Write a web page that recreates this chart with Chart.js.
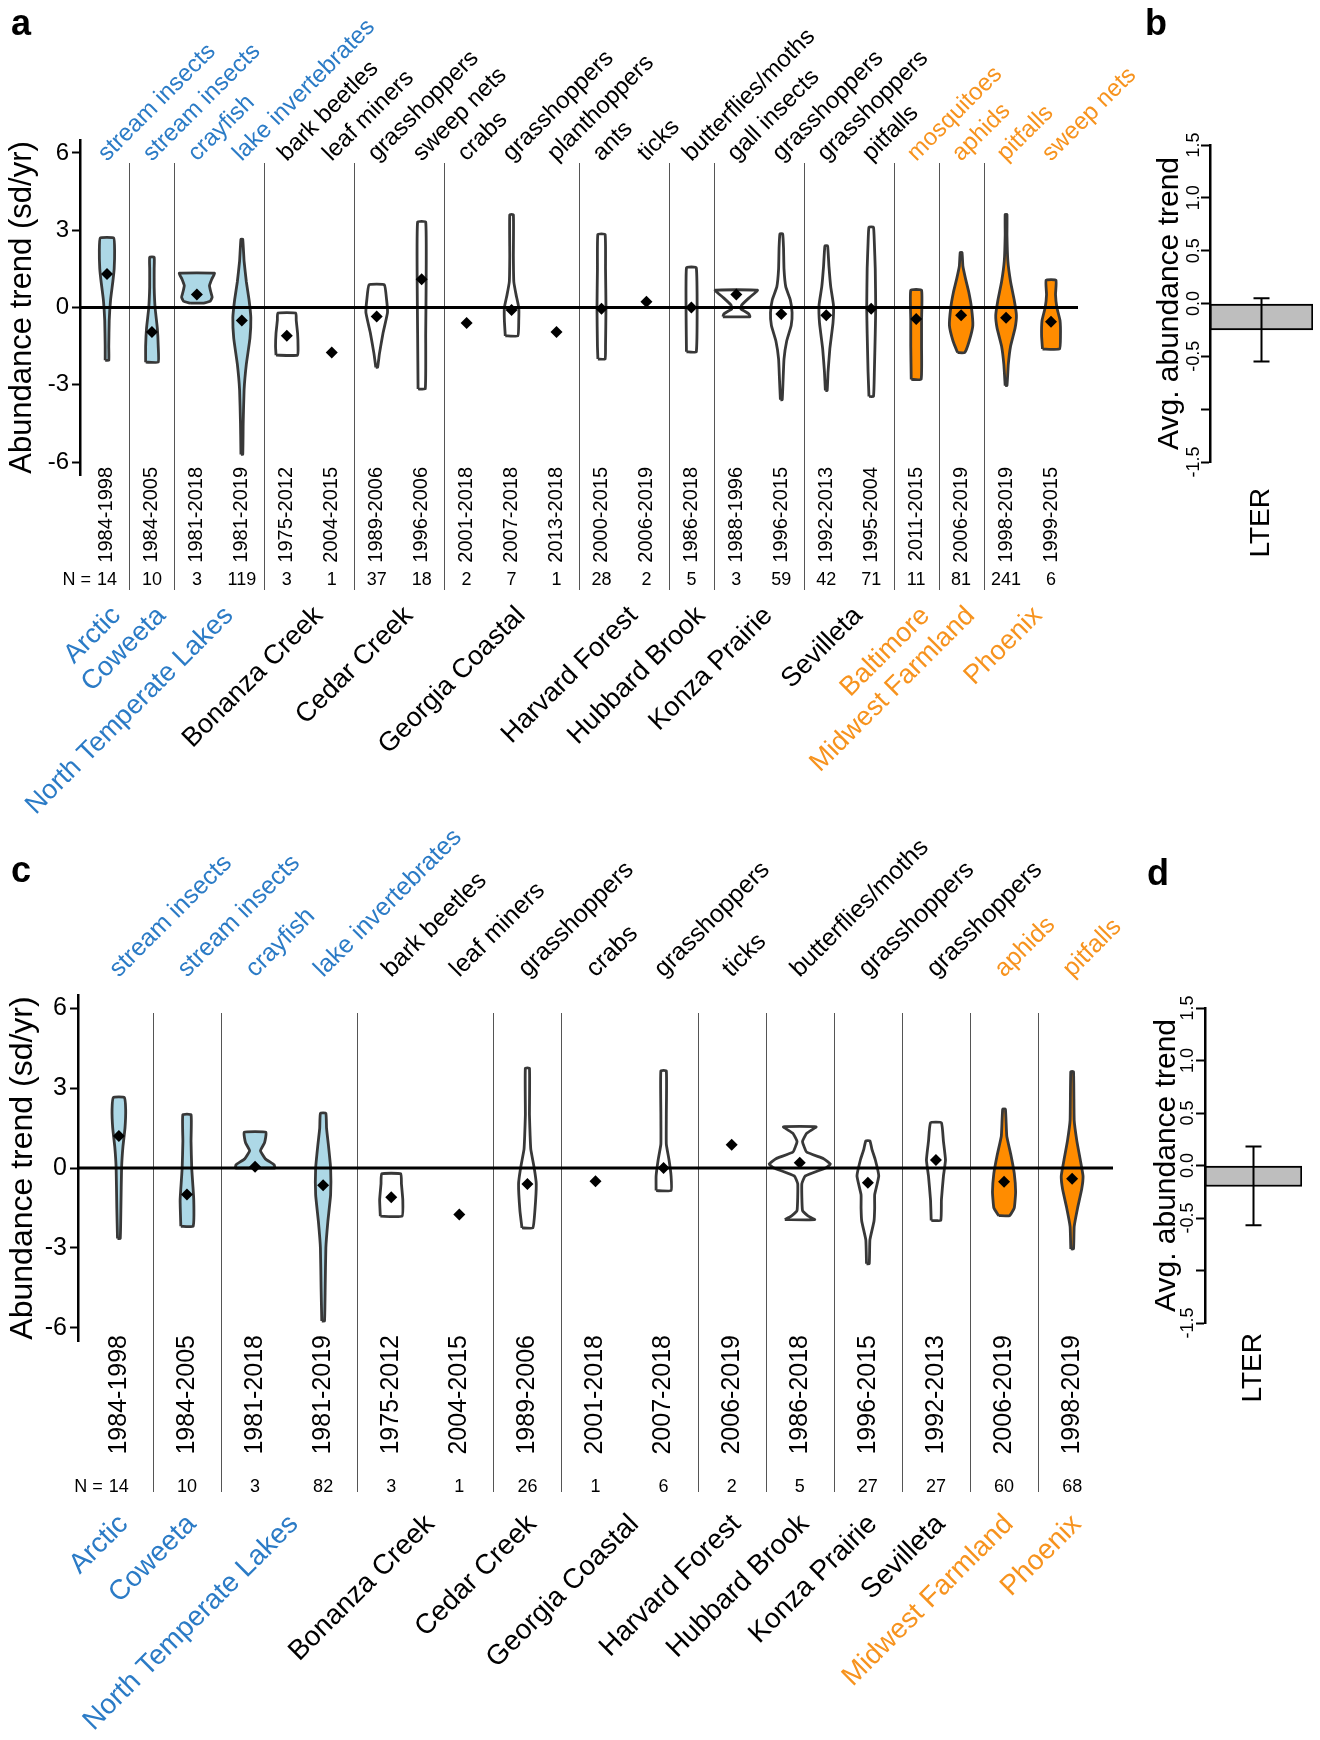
<!DOCTYPE html>
<html>
<head>
<meta charset="utf-8">
<script src="https://cdn.jsdelivr.net/npm/chart.js@4.4.1/dist/chart.umd.min.js"></script>
<style>
  body { margin: 0; background: #fff; width: 1320px; height: 1740px; position: relative; overflow: hidden; }
  canvas { position: absolute; }
</style>
</head>
<body>
<canvas id="chartA" width="1150" height="860" style="left:0;top:0"></canvas>
<canvas id="chartB" width="190" height="600" style="left:1130px;top:0"></canvas>
<canvas id="chartC" width="1150" height="920" style="left:0;top:820px"></canvas>
<canvas id="chartD" width="190" height="600" style="left:1130px;top:850px"></canvas>
<script>
// ---- panel a : all series ----
const taxaA = ['stream insects', 'stream insects', 'crayfish', 'lake invertebrates', 'bark beetles', 'leaf miners',
  'grasshoppers', 'sweep nets', 'crabs', 'grasshoppers', 'planthoppers', 'ants', 'ticks', 'butterflies/moths',
  'gall insects', 'grasshoppers', 'grasshoppers', 'pitfalls', 'mosquitoes', 'aphids', 'pitfalls', 'sweep nets'];
const periodsA = ['1984-1998', '1984-2005', '1981-2018', '1981-2019', '1975-2012', '2004-2015', '1989-2006', '1996-2006',
  '2001-2018', '2007-2018', '2013-2018', '2000-2015', '2006-2019', '1986-2018', '1988-1996', '1996-2015',
  '1992-2013', '1995-2004', '2011-2015', '2006-2019', '1998-2019', '1999-2015'];
const countsA = [14, 10, 3, 119, 3, 1, 37, 18, 2, 7, 1, 28, 2, 5, 3, 59, 42, 71, 11, 81, 241, 6];
const meansA = [1.3, -0.95, 0.5, -0.5, -1.1, -1.75, -0.35, 1.1, -0.6, -0.1, -0.95, -0.05, 0.22, 0.0, 0.5,
  -0.25, -0.3, -0.05, -0.45, -0.3, -0.4, -0.55];
const sitesA = ['Arctic', 'Coweeta', 'North Temperate Lakes', 'Bonanza Creek', 'Cedar Creek', 'Georgia Coastal',
  'Harvard Forest', 'Hubbard Brook', 'Konza Prairie', 'Sevilleta', 'Baltimore', 'Midwest Farmland', 'Phoenix'];
const siteSpansA = [[1, 1], [2, 2], [3, 4], [5, 6], [7, 8], [9, 11], [12, 13], [14, 14], [15, 16], [17, 18], [19, 19], [20, 20], [21, 22]];
const siteKindsA = ['aquatic', 'aquatic', 'aquatic', 'land', 'land', 'land', 'land', 'land', 'land', 'land', 'urban', 'urban', 'urban'];
// violin outline: trend levels and density half-widths (in column units)
const violinLevelsA = [
  [-2.05, -1.5, -0.5, 0.3, 1.0, 1.5, 2.2, 2.7],
  [-2.12, -1.5, -0.8, 0, 0.8, 1.5, 1.95],
  [0.17, 0.25, 0.4, 0.6, 0.85, 1.1, 1.33],
  [-5.7, -4.5, -3.2, -2.2, -1.2, -0.4, 0.3, 1.0, 1.8, 2.65],
  [-1.85, -1.5, -1.0, -0.5, -0.22],
  [],
  [-2.32, -1.8, -1.0, -0.2, 0.3, 0.88],
  [-3.16, -1, 1, 3.32],
  [],
  [-1.1, -0.5, 0, 0.5, 1.0, 2.0, 3.6],
  [],
  [-2.0, -1.5, 0, 1.5, 2.84],
  [],
  [-1.72, 1.54],
  [-0.36, -0.25, -0.05, 0.1, 0.4, 0.67],
  [-3.58, -2.8, -2.0, -1.3, -0.7, -0.2, 0.3, 0.8, 1.5, 2.3, 2.86],
  [-3.22, -2.5, -1.6, -0.6, 0.1, 0.8, 1.6, 2.39],
  [-3.45, -2.5, -1, 0, 1.5, 2.5, 3.12],
  [-2.79, -1.5, -0.5, 0.67],
  [-1.75, -1.3, -0.7, 0, 0.6, 1.1, 1.6, 2.13],
  [-3.03, -2.2, -1.5, -0.8, -0.3, 0.3, 1.0, 1.8, 2.8, 3.61],
  [-1.61, -1.1, -0.5, 0, 0.5, 1.06]
];
const violinWidthsA = [
  [0.04, 0.04, 0.05, 0.08, 0.13, 0.16, 0.17, 0.15],
  [0.14, 0.14, 0.12, 0.07, 0.05, 0.05, 0.05],
  [0.15, 0.3, 0.34, 0.31, 0.28, 0.33, 0.39],
  [0.02, 0.03, 0.05, 0.1, 0.18, 0.2, 0.16, 0.1, 0.05, 0.02],
  [0.24, 0.25, 0.24, 0.21, 0.2],
  [],
  [0.02, 0.06, 0.14, 0.24, 0.22, 0.17],
  [0.08, 0.09, 0.1, 0.09],
  [],
  [0.14, 0.16, 0.16, 0.1, 0.05, 0.04, 0.04],
  [],
  [0.08, 0.09, 0.1, 0.09, 0.08],
  [],
  [0.11, 0.11],
  [0.3, 0.28, 0.1, 0.12, 0.3, 0.47],
  [0.02, 0.04, 0.06, 0.12, 0.22, 0.24, 0.2, 0.1, 0.06, 0.05, 0.03],
  [0.02, 0.04, 0.08, 0.15, 0.16, 0.1, 0.06, 0.03],
  [0.05, 0.07, 0.09, 0.1, 0.09, 0.07, 0.05],
  [0.11, 0.12, 0.12, 0.12],
  [0.08, 0.18, 0.26, 0.23, 0.17, 0.1, 0.04, 0.02],
  [0.02, 0.05, 0.1, 0.2, 0.23, 0.18, 0.1, 0.04, 0.02, 0.02],
  [0.19, 0.21, 0.2, 0.13, 0.1, 0.11]
];

// ---- panel c : long series only ----
const taxaC = ['stream insects', 'stream insects', 'crayfish', 'lake invertebrates', 'bark beetles', 'leaf miners',
  'grasshoppers', 'crabs', 'grasshoppers', 'ticks', 'butterflies/moths', 'grasshoppers', 'grasshoppers', 'aphids', 'pitfalls'];
const periodsC = ['1984-1998', '1984-2005', '1981-2018', '1981-2019', '1975-2012', '2004-2015', '1989-2006', '2001-2018',
  '2007-2018', '2006-2019', '1986-2018', '1996-2015', '1992-2013', '2006-2019', '1998-2019'];
const countsC = [14, 10, 3, 82, 3, 1, 26, 1, 6, 2, 5, 27, 27, 60, 68];
const meansC = [1.2, -1.0, 0.05, -0.65, -1.1, -1.75, -0.6, -0.5, 0.0, 0.87, 0.2, -0.55, 0.3, -0.52, -0.4];
const sitesC = ['Arctic', 'Coweeta', 'North Temperate Lakes', 'Bonanza Creek', 'Cedar Creek', 'Georgia Coastal',
  'Harvard Forest', 'Hubbard Brook', 'Konza Prairie', 'Sevilleta', 'Midwest Farmland', 'Phoenix'];
const siteSpansC = [[1, 1], [2, 2], [3, 4], [5, 6], [7, 7], [8, 9], [10, 10], [11, 11], [12, 12], [13, 13], [14, 14], [15, 15]];
const siteKindsC = ['aquatic', 'aquatic', 'aquatic', 'land', 'land', 'land', 'land', 'land', 'land', 'land', 'urban', 'urban'];
const violinLevelsC = [
  [-2.65, -1.5, 0, 0.8, 1.5, 2.2, 2.65],
  [-2.19, -1.2, 0, 1, 2.0],
  [0, 0.12, 0.35, 0.65, 0.95, 1.34],
  [-5.75, -4.5, -3.0, -2.0, -1.0, 0, 0.8, 1.5, 2.06],
  [-1.81, -1.2, -0.6, -0.22],
  [],
  [-2.25, -1.6, -0.6, 0, 0.7, 1.2, 2, 3.75],
  [],
  [-0.85, -0.3, 0.3, 0.9, 2, 3.65],
  [],
  [-1.94, -1.8, -1.6, -0.6, -0.3, 0.0, 0.15, 0.35, 0.6, 1.0, 1.3, 1.55],
  [-3.6, -2.7, -2.0, -1.5, -1.0, -0.3, 0.3, 0.7, 1.02],
  [-1.97, -1.2, -0.3, 0.3, 1.0, 1.7],
  [-1.79, -1.5, -0.9, -0.2, 0.5, 1.2, 2.21],
  [-3.04, -2.2, -1.5, -0.8, -0.3, 0.3, 1.0, 1.8, 3.62]
];
const violinWidthsC = [
  [0.02, 0.03, 0.04, 0.06, 0.09, 0.1, 0.08],
  [0.09, 0.1, 0.07, 0.06, 0.06],
  [0.29, 0.28, 0.15, 0.08, 0.14, 0.16],
  [0.02, 0.03, 0.04, 0.07, 0.11, 0.11, 0.08, 0.05, 0.04],
  [0.16, 0.17, 0.15, 0.14],
  [],
  [0.08, 0.11, 0.13, 0.1, 0.05, 0.04, 0.03, 0.03],
  [],
  [0.11, 0.11, 0.08, 0.04, 0.04, 0.04],
  [],
  [0.22, 0.12, 0.04, 0.03, 0.08, 0.38, 0.45, 0.35, 0.1, 0.04, 0.1, 0.24],
  [0.02, 0.03, 0.09, 0.1, 0.1, 0.16, 0.11, 0.06, 0.03],
  [0.07, 0.08, 0.11, 0.14, 0.11, 0.08],
  [0.08, 0.15, 0.17, 0.15, 0.1, 0.04, 0.02],
  [0.02, 0.03, 0.08, 0.14, 0.16, 0.12, 0.07, 0.03, 0.02]
];

// ---- panels b and d : average trend across LTER ----
const avgLabel = ['LTER'];
const avgB = [-0.25];
const errB = [-0.55, 0.05];
const avgD = [-0.2];
const errD = [-0.57, 0.18];

const trendTicks = [-6, -3, 0, 3, 6];
const avgTicks = [-1.5, -1.0, -0.5, 0.0, 0.5, 1.0, 1.5];
const avgTickLabels = ['-1.5', '', '-0.5', '0.0', '0.5', '1.0', '1.5'];

const FONT = "'Liberation Sans', Arial, sans-serif";
const NARROW = "'Liberation Sans Narrow', 'Liberation Sans', Arial, sans-serif";
const kindText = { aquatic: '#2b7bc6', land: '#000000', urban: '#f7931e' };
const kindFill = { aquatic: '#add8e6', land: '#ffffff', urban: '#ff8c00' };

function columnKinds(spans, kinds, n) {
  const out = new Array(n);
  spans.forEach(([a, b], s) => {
    for (let c = a; c <= b; c++) out[c - 1] = kinds[s];
  });
  return out;
}

function textAt(ctx, text, x, y, angle, align, baseline) {
  ctx.save();
  ctx.translate(x, y);
  ctx.rotate(angle);
  ctx.textAlign = align;
  ctx.textBaseline = baseline;
  ctx.fillText(text, 0, 0);
  ctx.restore();
}

function violinSets(levels, widths, kinds) {
  const sets = [];
  levels.forEach((lv, i) => {
    if (!lv.length) return;
    const w = widths[i];
    const x = i + 1;
    const left = lv.map((y, k) => ({ x: x - w[k], y: y }));
    const right = lv.map((y, k) => ({ x: x + w[k], y: y })).reverse();
    sets.push({
      data: left.concat(right, [left[0]]),
      borderColor: '#383838',
      borderWidth: 2.8,
      borderJoinStyle: 'round',
      backgroundColor: kindFill[kinds[i]],
      fill: 'shape',
      pointRadius: 0,
      tension: 0.12,
      order: 3
    });
  });
  return sets;
}

// separators, column labels and site names around a violin panel
function columnLabels(cfg) {
  return {
    id: 'columnLabels',
    beforeDatasetsDraw(chart) {
      const { ctx } = chart;
      const xs = chart.scales.x;
      ctx.save();
      ctx.strokeStyle = '#555';
      ctx.lineWidth = 1;
      cfg.spans.slice(0, -1).forEach(([a, b]) => {
        const px = Math.round(xs.getPixelForValue(b + 0.5)) + 0.5;
        ctx.beginPath();
        ctx.moveTo(px, cfg.sepTop);
        ctx.lineTo(px, cfg.sepBottom);
        ctx.stroke();
      });
      ctx.restore();
    },
    afterDraw(chart) {
      const { ctx } = chart;
      const xs = chart.scales.x;
      const kinds = columnKinds(cfg.spans, cfg.siteKinds, cfg.taxa.length);
      ctx.save();
      // taxon labels on top
      ctx.font = cfg.taxonSize + 'px ' + FONT;
      cfg.taxa.forEach((t, i) => {
        ctx.fillStyle = kindText[kinds[i]];
        textAt(ctx, t, xs.getPixelForValue(i + 1) + cfg.taxonDx, cfg.taxonY, -Math.PI / 4, 'left', 'alphabetic');
      });
      // study periods
      ctx.fillStyle = '#000';
      ctx.font = cfg.periodSize + 'px ' + FONT;
      cfg.periods.forEach((p, i) => {
        textAt(ctx, p, xs.getPixelForValue(i + 1), cfg.periodTop, -Math.PI / 2, 'right', 'middle');
      });
      // sample sizes
      ctx.font = cfg.countSize + 'px ' + NARROW;
      ctx.textBaseline = 'middle';
      ctx.textAlign = 'center';
      cfg.counts.forEach((n, i) => {
        ctx.fillText(String(n), xs.getPixelForValue(i + 1), cfg.countY);
      });
      const firstW = ctx.measureText(String(cfg.counts[0])).width;
      ctx.textAlign = 'right';
      ctx.fillText('N = ', xs.getPixelForValue(1) - firstW / 2 - 1, cfg.countY);
      // site names
      ctx.font = cfg.siteSize + 'px ' + FONT;
      cfg.sites.forEach((s, k) => {
        const [a, b] = cfg.spans[k];
        const gx = (xs.getPixelForValue(a) + xs.getPixelForValue(b)) / 2;
        ctx.fillStyle = kindText[cfg.siteKinds[k]];
        textAt(ctx, s, gx + cfg.siteDx, cfg.siteY, -Math.PI / 4, 'right', 'top');
      });
      // panel letter
      ctx.fillStyle = '#000';
      ctx.font = 'bold 36px ' + FONT;
      ctx.textAlign = 'center';
      ctx.textBaseline = 'middle';
      ctx.fillText(cfg.letter, cfg.letterX, cfg.letterY);
      ctx.restore();
    }
  };
}

function trendChart(id, cfg) {
  const kinds = columnKinds(cfg.spans, cfg.siteKinds, cfg.taxa.length);
  const datasets = [
    {
      data: cfg.means.map((m, i) => ({ x: i + 1, y: m })),
      showLine: false,
      pointStyle: 'rectRot',
      pointRadius: 6,
      pointBackgroundColor: '#000',
      pointBorderWidth: 0,
      order: 1
    },
    {
      data: [{ x: cfg.xMin, y: 0 }, { x: cfg.xMax, y: 0 }],
      borderColor: '#000',
      borderWidth: 3,
      pointRadius: 0,
      fill: false,
      order: 2
    }
  ].concat(violinSets(cfg.levels, cfg.widths, kinds));

  return new Chart(document.getElementById(id), {
    type: 'line',
    data: { datasets: datasets },
    options: {
      responsive: false,
      animation: false,
      events: [],
      layout: { padding: cfg.padding },
      plugins: { legend: { display: false }, tooltip: { enabled: false } },
      scales: {
        x: { type: 'linear', min: cfg.xMin, max: cfg.xMax, display: false },
        y: {
          min: -6.5,
          max: 6.5,
          afterFit: (s) => { s.width = cfg.axisWidth; },
          afterBuildTicks: (s) => { s.ticks = trendTicks.map(v => ({ value: v })); },
          ticks: { font: { family: FONT, size: cfg.tickSize }, color: '#000', padding: 3, autoSkip: false },
          grid: { drawOnChartArea: false, tickLength: 8, tickColor: '#000', tickWidth: 2 },
          border: { display: true, color: '#000', width: 2.5 },
          title: {
            display: true,
            text: 'Abundance trend (sd/yr)',
            font: { family: FONT, size: cfg.titleSize },
            color: '#000',
            padding: { top: 4, bottom: 0 }
          }
        }
      }
    },
    plugins: [columnLabels(cfg)]
  });
}

// error bar, rotated tick labels and category label of a bar panel
function barExtras(cfg) {
  return {
    id: 'barExtras',
    afterDraw(chart) {
      const { ctx, chartArea } = chart;
      const ys = chart.scales.y;
      const bar = chart.getDatasetMeta(0).data[0];
      ctx.save();
      ctx.strokeStyle = '#000';
      ctx.lineWidth = 2;
      const lo = ys.getPixelForValue(cfg.err[0]);
      const hi = ys.getPixelForValue(cfg.err[1]);
      ctx.beginPath();
      ctx.moveTo(bar.x, lo); ctx.lineTo(bar.x, hi);
      ctx.moveTo(bar.x - 8, lo); ctx.lineTo(bar.x + 8, lo);
      ctx.moveTo(bar.x - 8, hi); ctx.lineTo(bar.x + 8, hi);
      ctx.stroke();
      ctx.fillStyle = '#000';
      ctx.font = '18px ' + FONT;
      avgTicks.forEach((v, i) => {
        if (!avgTickLabels[i]) return;
        textAt(ctx, avgTickLabels[i], chartArea.left - cfg.tickOffset, ys.getPixelForValue(v), -Math.PI / 2, 'center', 'middle');
      });
      ctx.font = '28px ' + FONT;
      textAt(ctx, avgLabel[0], bar.x, chartArea.bottom + cfg.labelGap, -Math.PI / 2, 'right', 'middle');
      ctx.font = 'bold 36px ' + FONT;
      ctx.textAlign = 'center';
      ctx.textBaseline = 'middle';
      ctx.fillText(cfg.letter, cfg.letterX, cfg.letterY);
      ctx.restore();
    }
  };
}

function avgChart(id, cfg) {
  return new Chart(document.getElementById(id), {
    type: 'bar',
    data: {
      labels: avgLabel,
      datasets: [{
        data: cfg.values,
        backgroundColor: '#bebebe',
        borderColor: '#000',
        borderWidth: 2,
        borderSkipped: false,
        barPercentage: 1,
        categoryPercentage: 1
      }]
    },
    options: {
      responsive: false,
      animation: false,
      events: [],
      layout: { padding: cfg.padding },
      plugins: { legend: { display: false }, tooltip: { enabled: false } },
      scales: {
        x: { display: false },
        y: {
          min: -1.5,
          max: 1.5,
          afterFit: (s) => { s.width = cfg.axisWidth; },
          afterBuildTicks: (s) => { s.ticks = avgTicks.map(v => ({ value: v })); },
          ticks: { display: false },
          grid: { drawOnChartArea: false, tickLength: 9, tickColor: '#000', tickWidth: 2 },
          border: { display: true, color: '#000', width: 2.5 },
          title: {
            display: true,
            text: 'Avg. abundance trend',
            font: { family: FONT, size: 30 },
            color: '#000',
            padding: { top: cfg.titlePad, bottom: 0 }
          }
        }
      }
    },
    plugins: [barExtras(cfg)]
  });
}

trendChart('chartA', {
  taxa: taxaA, periods: periodsA, counts: countsA, means: meansA,
  sites: sitesA, spans: siteSpansA, siteKinds: siteKindsA,
  levels: violinLevelsA, widths: violinWidthsA,
  xMin: 0.4, xMax: 22.6, axisWidth: 80,
  padding: { left: 0, top: 140, right: 72, bottom: 385 },
  tickSize: 24, titleSize: 31,
  taxonSize: 24, taxonDx: 0, taxonY: 162,
  sepTop: 163, sepBottom: 590,
  periodSize: 20, periodTop: 467,
  countSize: 18, countY: 580,
  siteSize: 27, siteDx: 0, siteY: 602,
  letter: 'a', letterX: 21, letterY: 25
});

avgChart('chartB', {
  values: avgB, err: errB, axisWidth: 80, titlePad: 22,
  padding: { left: 0, top: 145, right: 7, bottom: 138 },
  tickOffset: 16, labelGap: 26,
  letter: 'b', letterX: 26, letterY: 25
});

trendChart('chartC', {
  taxa: taxaC, periods: periodsC, counts: countsC, means: meansC,
  sites: sitesC, spans: siteSpansC, siteKinds: siteKindsC,
  levels: violinLevelsC, widths: violinWidthsC,
  xMin: 0.4, xMax: 15.6, axisWidth: 78,
  padding: { left: 0, top: 175, right: 37, bottom: 399 },
  tickSize: 25, titleSize: 32,
  taxonSize: 25, taxonDx: 0, taxonY: 158,
  sepTop: 193, sepBottom: 672,
  periodSize: 25, periodTop: 515,
  countSize: 18, countY: 667,
  siteSize: 28, siteDx: -5, siteY: 690,
  letter: 'c', letterX: 21, letterY: 52
});

avgChart('chartD', {
  values: avgD, err: errD, axisWidth: 75, titlePad: 19,
  padding: { left: 0, top: 158, right: 18, bottom: 127 },
  tickOffset: 17, labelGap: 10,
  letter: 'd', letterX: 28, letterY: 25
});
</script>
</body>
</html>
